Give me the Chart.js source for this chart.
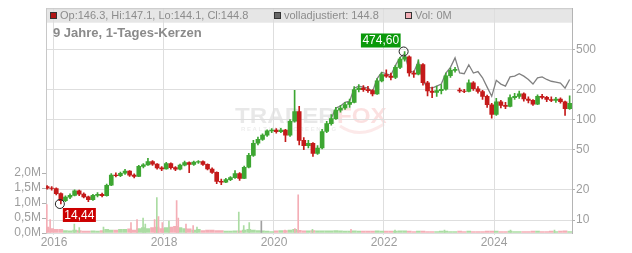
<!DOCTYPE html>
<html lang="de">
<head>
  <meta charset="UTF-8">
  <title>9 Jahre, 1-Tages-Kerzen</title>
  <script src="https://cdn.jsdelivr.net/npm/chart.js"></script>
  <style>
    html, body { margin: 0; padding: 0; background: #fff; }
    #wrap { width: 632px; height: 253px; }
  </style>
</head>
<body>
  <div id="wrap"><canvas id="chart" width="632" height="253"></canvas></div>

  <script>
    // Monatskerzen
    const monate = [
      '2015-11','2015-12',
      '2016-01','2016-02','2016-03','2016-04','2016-05','2016-06','2016-07','2016-08','2016-09','2016-10','2016-11','2016-12',
      '2017-01','2017-02','2017-03','2017-04','2017-05','2017-06','2017-07','2017-08','2017-09','2017-10','2017-11','2017-12',
      '2018-01','2018-02','2018-03','2018-04','2018-05','2018-06','2018-07','2018-08','2018-09','2018-10','2018-11','2018-12',
      '2019-01','2019-02','2019-03','2019-04','2019-05','2019-06','2019-07','2019-08','2019-09','2019-10','2019-11','2019-12',
      '2020-01','2020-02','2020-03','2020-04','2020-05','2020-06','2020-07','2020-08','2020-09','2020-10','2020-11','2020-12',
      '2021-01','2021-02','2021-03','2021-04','2021-05','2021-06','2021-07','2021-08','2021-09','2021-10','2021-11','2021-12',
      '2022-01','2022-02','2022-03','2022-04','2022-05','2022-06','2022-07','2022-08','2022-09','2022-10','2022-11','2022-12',
      '2023-01','2023-02','2023-03','2023-04','2023-05','2023-06','2023-07','2023-08','2023-09','2023-10','2023-11','2023-12',
      '2024-01','2024-02','2024-03','2024-04','2024-05','2024-06','2024-07','2024-08','2024-09','2024-10','2024-11','2024-12',
      '2025-01','2025-02','2025-03','2025-04','2025-05'
    ];
    const eroeffnung = [
      21.5, 20.8,
      20.6, 18.3, 15.6, 16.9, 17.6, 19.5, 18.1, 17.0, 15.9, 17.6, 18.0, 17.5,
      22.2, 28.0, 27.6, 29.2, 30.6, 28.0, 27.2, 34.2, 35.4, 38.2, 36.0, 33.0,
      32.2, 36.4, 33.2, 32.0, 35.2, 37.2, 35.8, 37.6, 38.2, 35.8, 32.2, 29.8,
      24.2, 23.8, 25.2, 26.4, 29.0, 26.0, 33.5, 44.0, 58.0, 63.5, 70.0, 77.0,
      78.5, 75.5, 78.5, 70.0, 96.0, 120, 62.0, 55.0, 58.0, 46.0, 52.0, 76.0,
      91, 102, 124, 130, 141, 148, 198, 205, 198, 194, 180, 242,
      280, 270, 262, 330, 398, 420, 290, 282, 352, 232, 192, 186,
      194, 200, 272, 308, 196, 192, 190, 232, 202, 190, 170, 140,
      112, 150, 138, 135, 165, 170, 180, 160, 155, 142, 170, 166,
      158, 155, 160, 150, 128
    ];
    const hoch = [
      22.0, 21.5,
      20.9, 18.6, 17.4, 18.2, 20.0, 19.9, 18.6, 17.3, 18.0, 18.7, 18.5, 22.8,
      29.0, 29.5, 30.0, 32.0, 31.0, 28.8, 35.0, 36.5, 41.0, 39.0, 36.5, 34.0,
      37.5, 37.0, 34.0, 36.0, 38.5, 38.0, 38.5, 39.0, 38.8, 36.2, 33.0, 30.2,
      25.5, 26.0, 27.0, 31.0, 29.6, 34.5, 46.0, 62.0, 67.0, 72.0, 79.0, 81.0,
      81.0, 81.5, 80.0, 100, 195, 135, 66.0, 62.0, 59.0, 55.0, 80.0, 96.0,
      112, 132, 138, 148, 160, 212, 222, 218, 214, 198, 255, 292,
      312, 290, 345, 415, 474.6, 430, 305, 392, 360, 240, 210, 215,
      222, 290, 325, 330, 205, 200, 248, 238, 212, 195, 175, 145,
      162, 155, 148, 176, 182, 192, 184, 168, 158, 176, 178, 170,
      168, 166, 164, 152, 172
    ];
    const tief = [
      20.3, 19.8,
      17.8, 14.44, 15.2, 16.3, 17.4, 17.5, 16.6, 15.2, 15.7, 17.0, 17.0, 17.3,
      22.0, 26.8, 27.0, 28.5, 27.2, 26.2, 27.0, 33.0, 35.0, 35.0, 32.0, 31.0,
      32.0, 32.0, 31.0, 31.5, 34.5, 29.5, 35.0, 36.5, 35.0, 31.5, 29.0, 23.0,
      22.5, 23.5, 24.6, 26.0, 24.8, 25.8, 33.0, 43.0, 56.0, 62.0, 68.0, 74.0,
      73.0, 74.0, 60.0, 68.0, 94.0, 56.0, 50.0, 52.0, 43.0, 45.0, 51.0, 74.0,
      88, 100, 118, 126, 132, 146, 188, 190, 186, 172, 178, 236,
      262, 248, 255, 320, 380, 270, 262, 278, 220, 172, 165, 170,
      180, 196, 262, 296, 186, 185, 188, 195, 183, 158, 132, 103,
      110, 130, 128, 133, 158, 162, 152, 146, 138, 140, 160, 150,
      150, 148, 145, 110, 126
    ];
    const schluss = [
      20.8, 20.6,
      18.3, 15.6, 16.9, 17.6, 19.5, 18.1, 17.0, 15.9, 17.6, 18.0, 17.5, 22.2,
      28.0, 27.6, 29.2, 30.6, 28.0, 27.2, 34.2, 35.4, 38.2, 36.0, 33.0, 32.2,
      36.4, 33.2, 32.0, 35.2, 37.2, 35.8, 37.6, 38.2, 35.8, 32.2, 29.8, 24.2,
      23.8, 25.2, 26.4, 29.0, 26.0, 33.5, 44.0, 58.0, 63.5, 70.0, 77.0, 78.5,
      75.5, 78.5, 70.0, 96.0, 120, 62.0, 55.0, 58.0, 46.0, 52.0, 76.0, 91.0,
      102, 124, 130, 141, 148, 198, 205, 198, 194, 180, 242, 280,
      270, 262, 330, 398, 420, 290, 282, 352, 232, 192, 186, 194,
      200, 272, 308, 315, 192, 190, 232, 202, 190, 170, 140, 112,
      150, 138, 135, 165, 170, 180, 160, 155, 142, 170, 166, 158,
      155, 160, 150, 128, 145
    ];

    // volladjustierter Kurs, ab 2021-01
    const adjStart = '2021-01';
    const volladjustiert = [
      103, 130, 136, 148, 152, 205, 215, 210, 205, 190, 255, 295,
      285, 275, 345, 415, 450, 305, 295, 380, 240, 210, 205, 215,
      225, 290, 330, 410, 290, 285, 350, 290, 300, 260, 210, 170,
      245, 225, 215, 265, 270, 285, 270, 250, 225, 260, 265, 250,
      240, 235, 230, 205, 250
    ];

    // Volumen in Mio. (Grundrauschen je Monat)
    const volumen = [
      0.20, 0.15,
      0.12, 0.12, 0.08, 0.07, 0.10, 0.08, 0.06, 0.06, 0.07, 0.06, 0.08, 0.12,
      0.10, 0.10, 0.12, 0.12, 0.14, 0.10, 0.15, 0.18, 0.15, 0.18, 0.20, 0.15,
      0.18, 0.20, 0.22, 0.18, 0.15, 0.14, 0.10, 0.12, 0.08, 0.10, 0.10, 0.08,
      0.08, 0.06, 0.06, 0.07, 0.07, 0.10, 0.12, 0.10, 0.08, 0.07, 0.06, 0.05,
      0.07, 0.08, 0.08, 0.10, 0.12, 0.09, 0.07, 0.07, 0.08, 0.07, 0.07, 0.07,
      0.07, 0.08, 0.07, 0.06, 0.06, 0.07, 0.06, 0.06, 0.06, 0.06, 0.07, 0.06,
      0.06, 0.06, 0.06, 0.07, 0.07, 0.06, 0.05, 0.06, 0.06, 0.05, 0.05, 0.05,
      0.06, 0.06, 0.05, 0.05, 0.06, 0.05, 0.06, 0.05, 0.05, 0.05, 0.06, 0.06,
      0.06, 0.05, 0.05, 0.06, 0.05, 0.05, 0.05, 0.05, 0.06, 0.06, 0.05, 0.05,
      0.06, 0.05, 0.06, 0.07, 0.05
    ];
    // einzelne Volumenspitzen (Datum als Jahr, Wert in Mio., g/r/k)
    const spitzenDatum = [2015.87, 2015.93, 2016.37, 2016.46, 2016.90, 2017.40, 2017.51, 2017.62, 2017.66, 2017.83,
      2017.87, 2017.90, 2017.97, 2018.09, 2018.23, 2018.26, 2018.40, 2018.53, 2018.60, 2019.36,
      2019.45, 2019.55, 2019.77, 2020.20, 2020.38, 2020.44, 2020.70, 2021.40, 2022.20, 2023.10,
      2024.30, 2025.10];
    const spitzenWert = [0.95, 0.45, 0.30, 0.18, 0.20, 0.35, 0.45, 0.50, 0.30, 0.45,
      1.18, 0.55, 0.35, 0.40, 1.08, 0.50, 0.30, 0.25, 0.20, 0.70,
      0.25, 0.35, 0.40, 0.10, 0.15, 1.27, 0.12, 0.12, 0.10, 0.10,
      0.10, 0.10];
    const spitzenFarbe = ['r','r','g','g','g','r','r','g','g','r',
      'g','r','r','g','r','r','r','r','g','g',
      'g','g','k','r','r','r','g','r','g','g',
      'g','g'];

    const jahre = [2016, 2018, 2020, 2022, 2024];
    const preisTicks = [10, 20, 50, 100, 200, 500];
    const volTicks = [0, 0.5, 1.0, 1.5, 2.0];

    const GRUEN = '#3da632';
    const ROT = '#c41a1a';
    const VGRUEN = '#abdca3';
    const VROT = '#f4aeb6';
    const SCHRIFT = '"Liberation Sans", Arial, sans-serif';

    const zuJahr = m => { const [j, mo] = m.split('-').map(Number); return j + (mo - 0.5) / 12; };
    const xs = monate.map(zuJahr);
    const steigt = schluss.map((c, i) => c >= eroeffnung[i]);
    const adjIndex = monate.indexOf(adjStart);
    const spitzenFarben = spitzenFarbe.map(f => f === 'g' ? VGRUEN : f === 'r' ? VROT : '#a0a0a0');

    const fmt = v => v.toFixed(2).replace('.', ',');

    Chart.defaults.font.family = SCHRIFT;

    // Hintergrund, Legendenleiste und Wasserzeichen
    const hintergrund = {
      id: 'hintergrund',
      beforeDraw(chart) {
        const { ctx, chartArea: a } = chart;
        ctx.save();
        ctx.fillStyle = '#fff';
        ctx.fillRect(0, 0, chart.width, chart.height);
        ctx.fillStyle = '#e6e6e6';
        ctx.fillRect(a.left, a.top, a.right - a.left, 14.5);

        // Wasserzeichen
        ctx.save();
        ctx.font = 'bold 22px ' + SCHRIFT;
        ctx.textBaseline = 'alphabetic';
        ctx.translate(235, 123);
        ctx.scale(1.1, 1);
        ctx.fillStyle = 'rgba(0,0,0,0.09)';
        ctx.fillText('TRADER', 0, 0);
        const w = ctx.measureText('TRADER').width;
        ctx.fillStyle = 'rgba(230,70,70,0.17)';
        ctx.fillText('FOX', w + 1, 0);
        ctx.restore();
        ctx.font = 'bold 6px ' + SCHRIFT;
        ctx.fillStyle = 'rgba(0,0,0,0.08)';
        ctx.letterSpacing = '1.6px';
        ctx.textBaseline = 'middle';
        ctx.fillText('REALTIME-SCREENING', 241, 129);
        ctx.letterSpacing = '0px';
        ctx.strokeStyle = 'rgba(230,70,70,0.12)';
        ctx.lineWidth = 3;
        ctx.beginPath();
        ctx.moveTo(340, 126);
        ctx.quadraticCurveTo(360, 140, 384, 124);
        ctx.stroke();
        ctx.restore();
      },
      afterDraw(chart) {
        const { ctx, chartArea: a, scales } = chart;
        ctx.save();
        // obere Rahmenlinie
        ctx.strokeStyle = '#c8c8c8';
        ctx.lineWidth = 1;
        ctx.beginPath();
        ctx.moveTo(a.left, a.top + 0.5);
        ctx.lineTo(a.right, a.top + 0.5);
        ctx.stroke();

        // Legende
        const eintraege = [
          { x: 50, farbe: '#b01515', text: 'Op:146.3, Hi:147.1, Lo:144.1, Cl:144.8' },
          { x: 274, farbe: '#666666', text: 'volladjustiert: 144.8' },
          { x: 405, farbe: '#f4aeb6', text: 'Vol: 0M' }
        ];
        ctx.font = '11px ' + SCHRIFT;
        ctx.textBaseline = 'middle';
        eintraege.forEach(e => {
          ctx.fillStyle = e.farbe;
          ctx.fillRect(e.x, 12, 7, 7);
          ctx.strokeStyle = '#333';
          ctx.strokeRect(e.x + 0.5, 12.5, 6, 6);
          ctx.fillStyle = '#8c8c8c';
          ctx.fillText(e.text, e.x + 10, 16);
        });

        // Titel
        ctx.font = 'bold 13px ' + SCHRIFT;
        ctx.fillStyle = '#8a8a8a';
        ctx.fillText('9 Jahre, 1-Tages-Kerzen', 53, 33);

        // Hoch- und Tiefpunkt
        let iMax = 0, iMin = 0;
        hoch.forEach((v, i) => { if (v > hoch[iMax]) iMax = i; });
        tief.forEach((v, i) => { if (v < tief[iMin]) iMin = i; });
        const marke = (i, wert, farbe, oben) => {
          const cx = scales.x.getPixelForValue(xs[i]) - 1;
          const cy = scales.y.getPixelForValue(wert);
          ctx.beginPath();
          ctx.arc(cx, cy, 4.5, 0, Math.PI * 2);
          ctx.strokeStyle = '#222';
          ctx.lineWidth = 1;
          ctx.stroke();
          ctx.font = '12px ' + SCHRIFT;
          const t = fmt(wert);
          const bw = ctx.measureText(t).width + 3;
          const bx = oben ? cx - 3 - bw : cx + 3;
          const by = oben ? cy - 18 : cy + 4;
          ctx.fillStyle = farbe;
          ctx.fillRect(bx, by, bw, 14);
          ctx.fillStyle = '#fff';
          ctx.textAlign = 'center';
          ctx.fillText(t, bx + bw / 2, by + 7.5);
          ctx.textAlign = 'left';
        };
        marke(iMax, hoch[iMax], '#0a990a', true);
        marke(iMin, tief[iMin], '#cc0000', false);
        ctx.restore();
      }
    };

    new Chart(document.getElementById('chart'), {
      type: 'bar',
      data: {
        datasets: [
          {
            label: 'Körper',
            data: xs.map((x, i) => ({ x, y: [eroeffnung[i], schluss[i]] })),
            backgroundColor: steigt.map(s => s ? GRUEN : ROT),
            barThickness: 4,
            grouped: false,
            yAxisID: 'y',
            order: 0
          },
          {
            label: 'Docht',
            data: xs.map((x, i) => ({ x, y: [tief[i], hoch[i]] })),
            backgroundColor: steigt.map(s => s ? GRUEN : ROT),
            barThickness: 1,
            grouped: false,
            yAxisID: 'y',
            order: 1
          },
          {
            type: 'line',
            label: 'volladjustiert',
            data: volladjustiert.map((v, i) => ({ x: xs[adjIndex + i], y: v })),
            borderColor: '#808080',
            borderWidth: 1.3,
            pointRadius: 0,
            tension: 0,
            yAxisID: 'y',
            order: 2
          },
          {
            label: 'Vol Spitzen',
            data: spitzenDatum.map((x, i) => ({ x, y: spitzenWert[i] })),
            backgroundColor: spitzenFarben,
            barThickness: 1,
            grouped: false,
            yAxisID: 'yv',
            order: 3
          },
          {
            label: 'Vol',
            data: xs.map((x, i) => ({ x, y: volumen[i] })),
            backgroundColor: steigt.map(s => s ? VGRUEN : VROT),
            barThickness: 4,
            grouped: false,
            yAxisID: 'yv',
            order: 4
          }
        ]
      },
      options: {
        responsive: false,
        animation: false,
        devicePixelRatio: 1,
        layout: { padding: { top: 8, left: 0, right: 0, bottom: 0 } },
        plugins: { legend: { display: false }, tooltip: { enabled: false } },
        scales: {
          x: {
            type: 'linear',
            min: 2015.855,
            max: 2025.418,
            offset: false,
            grid: { color: '#dedede', tickColor: '#dedede', tickLength: 2, offset: false },
            border: { color: '#dedede' },
            ticks: { color: '#9d9d9d', font: { size: 12 }, padding: 0, autoSkip: false, maxRotation: 0, callback: v => String(v) },
            afterBuildTicks: s => { s.ticks = jahre.map(v => ({ value: v })); },
            afterFit: s => { s.height = 20; }
          },
          y: {
            type: 'logarithmic',
            position: 'right',
            min: 7.43,
            max: 1279,
            grid: { color: '#dedede', tickColor: '#b0b0b0', tickLength: 3 },
            border: { color: '#b4b4b4' },
            ticks: { color: '#9d9d9d', font: { size: 12 }, padding: 1, callback: v => String(v) },
            afterBuildTicks: s => { s.ticks = preisTicks.map(v => ({ value: v })); },
            afterFit: s => { s.width = 60; }
          },
          yv: {
            type: 'linear',
            position: 'left',
            min: 0,
            max: 7.5,
            grid: { drawOnChartArea: false, tickColor: '#b0b0b0', tickLength: 4 },
            border: { color: '#c8c8c8' },
            ticks: { color: '#9d9d9d', font: { size: 12 }, padding: 1, callback: v => v.toFixed(1).replace('.', ',') + 'M' },
            afterBuildTicks: s => { s.ticks = volTicks.map(v => ({ value: v })); },
            afterFit: s => { s.width = 46; }
          }
        }
      },
      plugins: [hintergrund]
    });
  </script>
</body>
</html>
